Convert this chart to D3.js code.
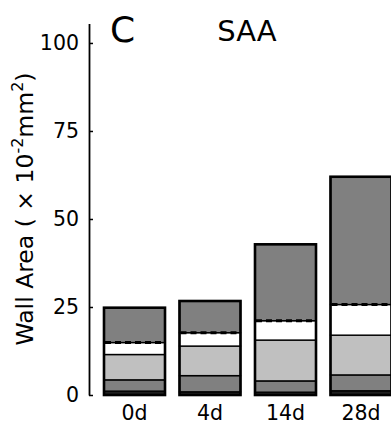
<!DOCTYPE html>
<html>
<head>
<meta charset="utf-8">
<script src="https://cdn.jsdelivr.net/npm/d3@7"></script>
<style>
  body { margin: 0; background: #fff; }
  text { font-family: "DejaVu Sans", sans-serif; fill: #000; }
</style>
</head>
<body>
<div id="chart"></div>
<script>
// time points
var categories = ["0d", "4d", "14d", "28d"];
// layer thickness, bottom to top
var layerKeys = ["base", "inner", "middle", "gap", "outer"];
var base   = [1.1, 0.9, 0.8, 1.2];
var inner  = [3.2, 4.6, 3.2, 4.5];
var middle = [7.2, 8.4, 11.6, 11.3];
var gap    = [3.4, 3.8, 5.5, 8.7];
var outer  = [9.9, 9.0, 21.7, 36.3];
var yTicks = [0, 25, 50, 75, 100];

var layerColors = {base: "#1e1e1e", inner: "#808080", middle: "#c0c0c0", gap: "#ffffff", outer: "#808080"};

var svgWidth = 391, svgHeight = 426;

var svg = d3.select("#chart")
  .append("svg")
  .attr("width", svgWidth)
  .attr("height", svgHeight);

var data = categories.map(function(c, i) {
  return {cat: c, base: base[i], inner: inner[i], middle: middle[i], gap: gap[i], outer: outer[i]};
});

var stacked = d3.stack().keys(layerKeys)(data);

var x = d3.scaleBand()
  .domain(categories)
  .range([96.75, 398.75])
  .paddingInner(0.192)
  .paddingOuter(0.096);

var y = d3.scaleLinear()
  .domain([0, 105.5])
  .range([395, 23.6]);

// segments
stacked.forEach(function(layer) {
  svg.append("g").selectAll("rect")
    .data(layer)
    .enter()
    .append("rect")
    .attr("x", d => x(d.data.cat))
    .attr("y", d => y(d[1]))
    .attr("width", x.bandwidth())
    .attr("height", d => y(d[0]) - y(d[1]))
    .attr("fill", layerColors[layer.key])
    .attr("stroke", "#000")
    .attr("stroke-width", 1.4);
});

// dashed line at top of gap layer
var gapLayer = stacked[3];
svg.append("g").selectAll("line")
  .data(gapLayer)
  .enter()
  .append("line")
  .attr("x1", d => x(d.data.cat) + 1)
  .attr("x2", d => x(d.data.cat) + x.bandwidth() - 1)
  .attr("y1", d => y(d[1]))
  .attr("y2", d => y(d[1]))
  .attr("stroke", "#000")
  .attr("stroke-width", 3)
  .attr("stroke-dasharray", "6,4");

// outer frame
var topLayer = stacked[stacked.length - 1];
svg.append("g").selectAll("rect")
  .data(topLayer)
  .enter()
  .append("rect")
  .attr("x", d => x(d.data.cat))
  .attr("y", d => y(d[1]))
  .attr("width", x.bandwidth())
  .attr("height", d => y(0) - y(d[1]))
  .attr("fill", "none")
  .attr("stroke", "#000")
  .attr("stroke-width", 2.6);

// y axis
var yAxis = svg.append("g")
  .attr("transform", "translate(89,0)")
  .call(d3.axisLeft(y).tickValues(yTicks).tickSizeInner(-4).tickSizeOuter(0).tickPadding(10));
yAxis.select(".domain").attr("stroke-width", 1.8);
yAxis.selectAll(".tick line").attr("stroke-width", 1.5);
yAxis.selectAll(".tick text").attr("font-size", 20.5).style("font-family", "DejaVu Sans");

// x labels
svg.append("g").selectAll("text")
  .data(categories)
  .enter()
  .append("text")
  .attr("x", d => x(d) + x.bandwidth() / 2)
  .attr("y", 420)
  .attr("text-anchor", "middle")
  .attr("font-size", 20.5)
  .text(d => d);

// panel letter and title
svg.append("text")
  .attr("x", 110)
  .attr("y", 42)
  .attr("font-size", 36)
  .text("C");

svg.append("text")
  .attr("x", 247)
  .attr("y", 41)
  .attr("text-anchor", "middle")
  .attr("font-size", 29)
  .text("SAA");

// y label
var yLabel = svg.append("text")
  .attr("transform", "translate(33,209) rotate(-90)")
  .attr("text-anchor", "middle")
  .attr("font-size", 23.5);
yLabel.append("tspan").text("Wall Area ( \u00d7 10");
yLabel.append("tspan").attr("font-size", 16).attr("dy", -10).text("-2");
yLabel.append("tspan").attr("dy", 10).text("mm");
yLabel.append("tspan").attr("font-size", 16).attr("dy", -10).text("2");
yLabel.append("tspan").attr("dy", 10).text(")");
</script>
</body>
</html>
